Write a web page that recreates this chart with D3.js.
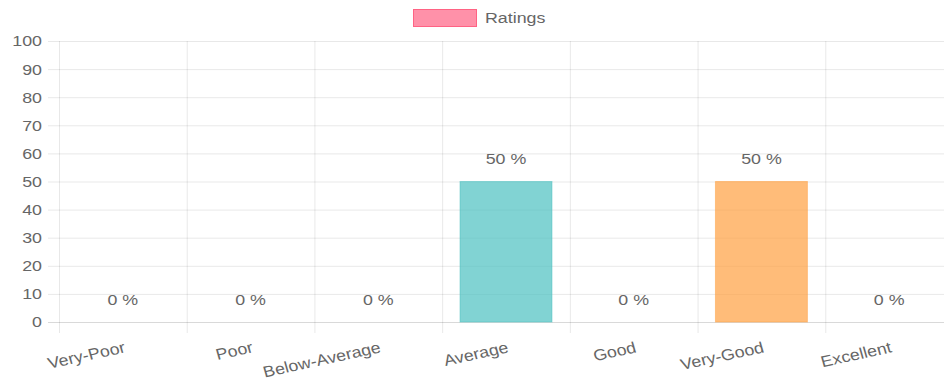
<!DOCTYPE html>
<html><head><meta charset="utf-8">
<script src="https://cdn.jsdelivr.net/npm/d3@7"></script>
<style>
html,body{margin:0;padding:0;background:#fff;overflow:hidden}
text{font-family:"Liberation Sans",Arial,sans-serif;fill:#666}
</style></head>
<body><svg id="c" width="944" height="385"></svg>
<script>
const categories = ["Very-Poor","Poor","Below-Average","Average","Good","Very-Good","Excellent"];
const values = [0,0,0,50,0,50,0];
const barColors = ["rgba(255,99,132,0.7)","rgba(255,159,64,0.7)","rgba(255,205,86,0.7)","rgba(75,192,192,0.7)","rgba(54,162,235,0.7)","rgba(255,159,64,0.7)","rgba(201,203,207,0.7)"];
const borderColors = ["rgb(255,99,132)","rgb(255,159,64)","rgb(255,205,86)","rgb(75,192,192)","rgb(54,162,235)","rgb(255,159,64)","rgb(201,203,207)"];
const yTicks = [0,10,20,30,40,50,60,70,80,90,100];
const seriesName = "Ratings";

const svg = d3.select("#c");
const x = d3.scaleBand().domain(categories).range([59, 953]).paddingInner(0).paddingOuter(0);
const y = d3.scaleLinear().domain([0,100]).range([322, 41]);
const fs = 15.5;
const sx = 1.15;

// horizontal grid + y labels
const gy = svg.append("g").attr("transform","translate(59,0)")
  .call(d3.axisLeft(y).tickValues(yTicks).tickSize(-(953-59)).tickSizeOuter(0).tickPadding(17/sx));
gy.select(".domain").remove();
gy.selectAll(".tick line").attr("stroke", d => d===0 ? "rgba(0,0,0,0.15)" : "rgba(0,0,0,0.09)").attr("x1",-11);
gy.selectAll(".tick text").attr("font-size",fs).attr("fill","#666")
  .attr("font-family","Liberation Sans, Arial, sans-serif")
  .attr("transform",`scale(${sx},1)`);

// vertical grid
svg.append("g").selectAll("line").data(categories).join("line")
  .attr("x1", d => x(d)+0.5).attr("x2", d => x(d)+0.5)
  .attr("y1", 41).attr("y2", 333)
  .attr("stroke","rgba(0,0,0,0.09)");

// bars
const bw = x.bandwidth()*0.72;
svg.append("g").selectAll("rect").data(categories).join("rect")
  .attr("x", (d) => x(d) + (x.bandwidth()-bw)/2)
  .attr("width", bw)
  .attr("y", (d,i) => y(values[i]))
  .attr("height", (d,i) => y(0)-y(values[i]))
  .attr("fill", (d,i) => barColors[i])
  .attr("stroke", (d,i) => values[i] ? borderColors[i] : "none")
  .attr("stroke-opacity",0.5)
  .attr("stroke-width",1);

// value labels
svg.append("g").selectAll("text").data(categories).join("text")
  .attr("transform", (d,i) => `translate(${x(d)+x.bandwidth()/2},${y(values[i]) - 17.5}) scale(${sx},1)`)
  .attr("text-anchor","middle")
  .attr("font-size",fs)
  .text((d,i) => values[i] + " %");

// x labels rotated
svg.append("g").selectAll("text").data(categories).join("text")
  .attr("transform", d => `translate(${x(d)+x.bandwidth()/2},${340}) scale(${sx},1) rotate(-14)`)
  .attr("text-anchor","end")
  .attr("dy","0.8em")
  .attr("font-size",fs)
  .text(d => d);

// legend
svg.append("rect").attr("x",413.5).attr("y",9.5).attr("width",63).attr("height",17)
  .attr("fill","rgba(255,99,132,0.7)").attr("stroke","rgb(255,99,132)").attr("stroke-width",1);
svg.append("text").attr("transform",`translate(485,18) scale(${sx},1)`).attr("dy","0.35em").attr("font-size",fs).text(seriesName);
</script></body></html>
